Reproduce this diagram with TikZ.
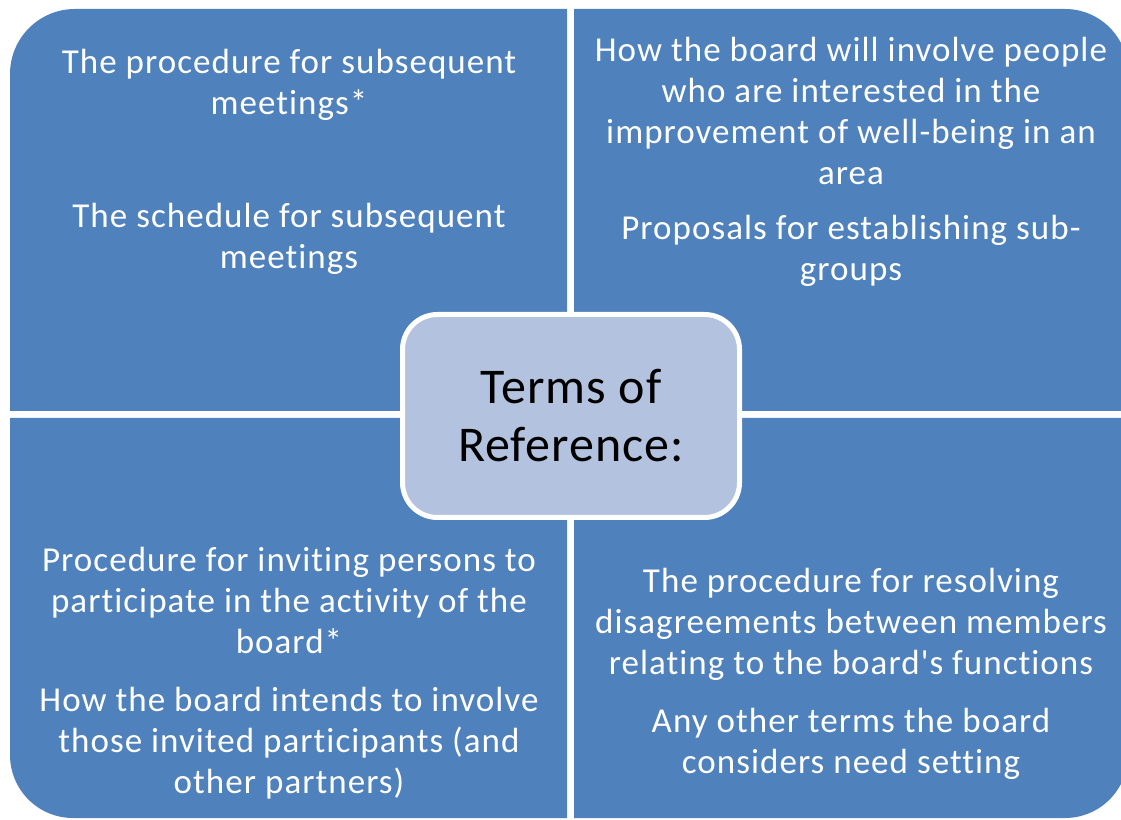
\documentclass[tikz,border=0pt]{standalone}
\usepackage{fontspec}
\setmainfont{Carlito}[Ligatures={NoCommon,TeXOff}]
\definecolor{quadblue}{HTML}{4F81BD}
\definecolor{centerfill}{HTML}{B3C2DE}
\begin{document}
\begin{tikzpicture}[x=1pt,y=1pt,
  quad/.style={fill=quadblue},
  qtext/.style={text=white,align=center,font=\fontsize{35}{41}\selectfont\addfontfeatures{LetterSpace=3},inner sep=0pt},
  centerbox/.style={draw=white,line width=5pt,fill=centerfill,rounded corners=35pt,
     minimum width=337pt,minimum height=203pt,align=center,
     font=\fontsize{50}{58}\selectfont\addfontfeatures{LetterSpace=2},text=black}]
\useasboundingbox (0,0) rectangle (1121,819);
\clip (0,0) rectangle (1121,819);
% quadrants
\fill[quad] (567,408) -- (10,408) -- (10,745) arc[start angle=180,end angle=90,radius=65] -- (567,810) -- cycle;
\fill[quad] (574,408) -- (1128,408) -- (1128,747) arc[start angle=0,end angle=90,radius=63] -- (574,810) -- cycle;
\fill[quad] (567,401) -- (10,401) -- (10,64) arc[start angle=180,end angle=270,radius=63] -- (567,1) -- cycle;
\fill[quad] (574,401) -- (1128,401) -- (1128,64) arc[start angle=0,end angle=-90,radius=63] -- (574,1) -- cycle;
% texts
\node[qtext] (tl1) at (289,734.5) {The procedure for subsequent\\meetings*};
\node[qtext] (tl2) at (289,580) {The schedule for subsequent\\meetings};
\node[qtext] (tr1) at (851,708.5) {How the board will involve people\\who are interested in the\\improvement of well-being in an\\area};
\node[qtext] (tr2) at (851,568) {Proposals for establishing sub-\\groups};
\node[qtext] (bl1) at (289,218.5) {Procedure for inviting persons to\\participate in the activity of the\\board*};
\node[qtext] (bl2) at (289,76) {How the board intends to involve\\those invited participants (and\\other partners)};
\node[qtext] (br1) at (851,195) {The procedure for resolving\\disagreements between members\\relating to the board's functions};
\node[qtext] (br2) at (851,75.5) {Any other terms the board\\considers need setting};
% center
\node[centerbox] (center) at (571,403) {Terms of\\Reference:};
\end{tikzpicture}
\end{document}
